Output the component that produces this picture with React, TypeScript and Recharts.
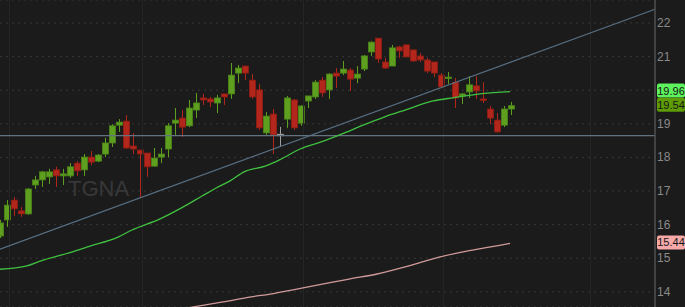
import React from "react";
import {
  ComposedChart,
  Bar,
  Line,
  XAxis,
  YAxis,
  CartesianGrid,
  ReferenceLine,
} from "recharts";

// daily candles, index 0..73
const opens = [
  15.66, 16.14, 16.73, 16.41, 16.32, 17.18, 17.33, 17.42, 17.63, 17.45,
  17.45, 17.83, 17.63, 18.01, 17.89, 18.1, 18.43, 18.96, 19.08, 18.34,
  18.22, 18.13, 17.74, 18.01, 18.25, 19.02, 19.17, 18.94, 19.41, 19.77,
  19.74, 19.62, 19.89, 19.89, 20.51, 20.72, 20.3, 20.01, 18.73, 19.29,
  18.69, 19.14, 19.71, 19.02, 19.68, 19.8, 20.3, 20.01, 20.51, 20.51,
  20.6, 20.36, 20.63, 21.14, 21.55, 20.84, 20.72, 21.29, 21.35, 21.2,
  21.02, 20.9, 20.84, 20.45, 20.36, 20.24, 19.83, 19.95, 20.13, 19.74,
  19.44, 19.11, 18.96, 19.44,
];
const highs = [
  16.14, 16.73, 16.82, 16.52, 17.09, 17.45, 17.6, 17.66, 17.72, 17.66,
  17.83, 17.89, 18.1, 18.19, 18.1, 18.58, 18.99, 19.14, 19.26, 18.73,
  18.22, 18.13, 18.28, 18.28, 19.02, 19.47, 19.41, 19.71, 19.92, 19.89,
  19.8, 19.86, 19.89, 20.81, 20.75, 20.72, 20.48, 20.19, 19.35, 19.44,
  18.91, 19.83, 19.74, 19.56, 19.83, 20.3, 20.39, 20.51, 20.66, 20.87,
  20.66, 20.72, 21.05, 21.46, 21.55, 20.96, 21.35, 21.32, 21.35, 21.2,
  21.11, 20.96, 20.84, 20.51, 20.54, 20.36, 19.92, 20.42, 20.42, 20.24,
  19.53, 19.32, 19.53, 19.65,
];
const lows = [
  15.6, 15.93, 16.26, 16.23, 16.29, 17.06, 17.12, 17.21, 17.12, 17.18,
  17.39, 17.45, 17.45, 17.77, 17.86, 18.01, 18.31, 18.76, 18.25, 18.1,
  16.79, 17.42, 17.72, 17.83, 18.01, 18.67, 18.61, 18.9, 19.17, 19.56,
  19.5, 19.32, 19.56, 19.74, 20.21, 20.3, 19.74, 18.82, 18.67, 18.1,
  18.31, 18.88, 18.82, 18.94, 19.47, 19.74, 19.8, 19.74, 20.07, 20.45,
  19.98, 20.21, 20.57, 21.02, 20.81, 20.63, 20.72, 20.96, 20.99, 20.84,
  20.84, 20.51, 20.39, 20.07, 20.19, 19.47, 19.59, 19.77, 19.74, 19.62,
  18.99, 18.73, 18.9, 19.26,
];
const closes = [
  16.05, 16.58, 16.47, 16.32, 17.06, 17.33, 17.57, 17.57, 17.45, 17.51,
  17.72, 17.6, 18.01, 17.86, 18.07, 18.43, 18.94, 19.05, 18.28, 18.25,
  18.1, 17.72, 17.98, 18.1, 18.94, 19.11, 18.9, 19.47, 19.62, 19.71,
  19.65, 19.77, 19.8, 20.45, 20.66, 20.51, 19.8, 18.88, 19.23, 18.67,
  18.69, 19.77, 18.88, 19.53, 19.83, 20.24, 19.92, 20.48, 20.42, 20.63,
  20.33, 20.48, 21.02, 21.43, 20.93, 20.66, 21.26, 21.17, 20.99, 20.87,
  20.9, 20.57, 20.51, 20.1, 20.39, 19.77, 19.89, 20.16, 19.98, 19.71,
  19.17, 18.76, 19.44, 19.54,
];

// moving averages, read at sampled candles
const fastIdx = [0, 4, 6, 10, 13, 17, 19, 23, 26, 29, 31, 33, 35, 38, 40, 43, 46, 49, 52, 55, 58, 62, 65, 69, 73];
const fastVals = [14.67, 14.77, 14.92, 15.16, 15.36, 15.63, 15.84, 16.17, 16.49, 16.85, 17.09, 17.3, 17.57, 17.74, 17.92, 18.25, 18.46, 18.7, 18.96, 19.2, 19.41, 19.68, 19.78, 19.9, 19.96];
const slowIdx = [26, 28, 32, 36, 39, 42, 46, 50, 54, 58, 63, 67, 70, 73];
const slowVals = [13.49, 13.56, 13.7, 13.85, 13.94, 14.06, 14.22, 14.38, 14.53, 14.74, 15.04, 15.22, 15.33, 15.44];

const yTicks = [14, 15, 16, 17, 18, 19, 20, 21, 22];
const monthLines = [1.5, 20.5, 43.5, 63.5, 84.5];
const trendLine = [
  { x: 0.14, y: 15.27 },
  { x: 93.7, y: 22.41 },
];
const supportLevel = 18.65;
const badges = [
  { value: 19.96, text: "19.96", fill: "#5ef25e" },
  { value: 19.54, text: "19.54", fill: "#5e9c06" },
  { value: 15.44, text: "15.44", fill: "#f7a9a9" },
];

const GREEN = "#5e9f20";
const GREEN_EDGE = "#4c8618";
const RED = "#b3261b";
const RED_EDGE = "#8f1d14";
const GRAY = "#a0a0a0";
const FONT = "'Liberation Sans', Arial, sans-serif";

const candles = opens.map((o, i) => ({
  i,
  open: o,
  high: highs[i],
  low: lows[i],
  close: closes[i],
  range: [lows[i], highs[i]],
}));
const fast = fastIdx.map((i, k) => ({ i, v: fastVals[k] }));
const slow = slowIdx.map((i, k) => ({ i, v: slowVals[k] }));

const Candle = (props: any) => {
  const { x, y, width, height, payload } = props;
  if (!payload) return null;
  const { open, close, high, low } = payload;
  const top = Math.min(y, y + height);
  const h = Math.abs(height);
  const px = (v: number) => (high === low ? top : top + ((high - v) / (high - low)) * h);
  const up = close > open;
  const flat = close === open;
  const color = flat ? GRAY : up ? GREEN : RED;
  const edge = flat ? GRAY : up ? GREEN_EDGE : RED_EDGE;
  const cx = Math.round(x + width / 2);
  const b1 = px(Math.max(open, close));
  const b2 = px(Math.min(open, close));
  return (
    <g>
      <line x1={cx + 0.5} x2={cx + 0.5} y1={top} y2={top + h} stroke={color} strokeWidth={1} />
      <rect
        x={cx - 2.5}
        y={b1}
        width={6}
        height={Math.max(b2 - b1, 1.5)}
        fill={color}
        stroke={edge}
        strokeWidth={0.8}
      />
    </g>
  );
};

const AxisTick = (props: any) => {
  const { x, y, payload } = props;
  if (payload.value === 20) return <g />;
  return (
    <text x={x} y={y} dy={4} fill="#8a8a8a" fontSize={12} fontFamily={FONT} textAnchor="start">
      {payload.value}
    </text>
  );
};

const badgeLabel = (text: string, fill: string) => (props: any) => {
  const vb = props.viewBox || {};
  const bx = (vb.x || 0) + (vb.width || 0) + 2;
  const cy = (vb.y || 0) - 1;
  return (
    <g>
      <rect x={bx} y={cy - 7} width={28} height={14} rx={2} fill={fill} />
      <text x={bx + 14} y={cy + 4} textAnchor="middle" fontSize={11} fontFamily={FONT} fill="#151515">
        {text}
      </text>
    </g>
  );
};

export default function App() {
  return (
    <div style={{ position: "absolute", left: 0, top: 0, width: 685, height: 307, background: "#1b1b1b", overflow: "hidden" }}>
      <div
        style={{
          position: "absolute",
          left: 68,
          top: 178,
          fontFamily: FONT,
          fontSize: 22,
          lineHeight: "22px",
          color: "#383838",
        }}
      >
        TGNA
      </div>
      <div style={{ position: "absolute", left: 0, top: 0 }}>
        <ComposedChart width={685} height={307} data={candles} margin={{ top: 0, right: 0, bottom: 0, left: 0 }}>
          <CartesianGrid vertical={false} stroke="#363636" strokeDasharray="2 4" />
          {monthLines.map((m) => (
            <ReferenceLine key={m} x={m} stroke="#262626" strokeWidth={1} />
          ))}
          <XAxis dataKey="i" type="number" domain={[0.14, 93.7]} allowDataOverflow hide />
          <YAxis
            orientation="right"
            width={30}
            type="number"
            domain={[13.548, 22.685]}
            allowDataOverflow
            ticks={yTicks}
            interval={0}
            tick={<AxisTick />}
            tickLine={false}
            tickSize={0}
            tickMargin={2}
            axisLine={{ stroke: "#505050", strokeWidth: 1.5 }}
          />
          <ReferenceLine y={supportLevel} stroke="#63727f" strokeWidth={1.2} />
          <ReferenceLine segment={trendLine} stroke="#587084" strokeWidth={1.2} ifOverflow="visible" />
          <Line
            data={slow}
            dataKey="v"
            type="monotone"
            stroke="#d19a9a"
            strokeWidth={1.3}
            dot={false}
            activeDot={false}
            isAnimationActive={false}
          />
          <Line
            data={fast}
            dataKey="v"
            type="monotone"
            stroke="#40c040"
            strokeWidth={1.3}
            dot={false}
            activeDot={false}
            isAnimationActive={false}
          />
          <Bar
            dataKey="range"
            barSize={6}
            shape={(p: any) => <Candle {...p} />}
            activeBar={false}
            isAnimationActive={false}
          />
          {badges.map((b) => (
            <ReferenceLine key={b.text} y={b.value} stroke="none" label={badgeLabel(b.text, b.fill)} />
          ))}
        </ComposedChart>
      </div>
    </div>
  );
}
